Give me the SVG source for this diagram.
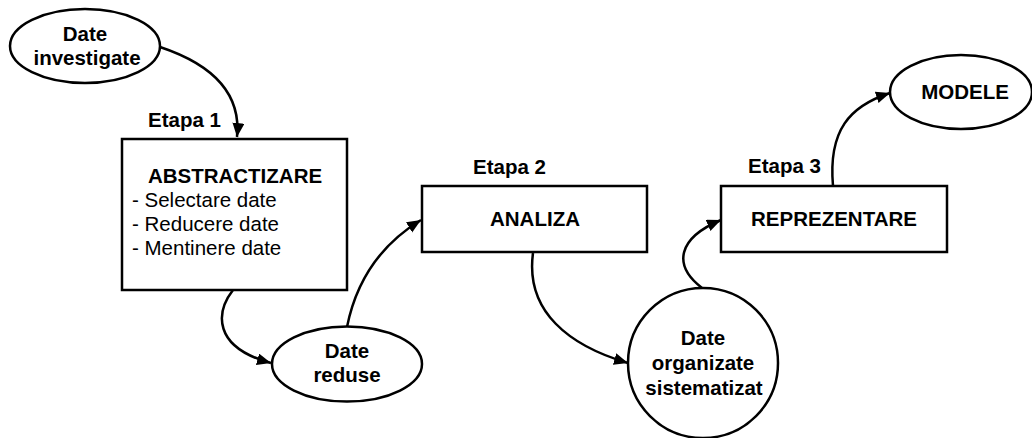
<svg xmlns="http://www.w3.org/2000/svg" width="1032" height="438" viewBox="0 0 1032 438">
  <style>
    .shape { fill: #ffffff; stroke: #000000; stroke-width: 2.5; }
    .link { fill: none; stroke: #000000; stroke-width: 2.5; }
    text { font-family: "Liberation Sans", Arial, sans-serif; font-size: 20.5px; fill: #000000; }
    .b { font-weight: bold; }
    .c { text-anchor: middle; }
  </style>
  <defs>
    <marker id="arrow" markerUnits="userSpaceOnUse" markerWidth="16" markerHeight="13" refX="14" refY="6" orient="auto">
      <path d="M0,0 L14,6 L0,12 z" fill="#000000"/>
    </marker>
  </defs>

  <rect width="1032" height="438" fill="#ffffff"/>

  <!-- connectors -->
  <g id="connectors">
    <path class="link" d="M160,47 C205,62 242,88 237,137" marker-end="url(#arrow)"/>
    <path class="link" d="M233,290 C216,312 212,347 271,363" marker-end="url(#arrow)"/>
    <path class="link" d="M347,327 C356,282 380,245 421,220" marker-end="url(#arrow)"/>
    <path class="link" d="M533,253 C525,312 570,346 628,363" marker-end="url(#arrow)"/>
    <path class="link" d="M702,288 C672,265 678,238 721,220" marker-end="url(#arrow)"/>
    <path class="link" d="M833,186 C828,130 850,106 890,93" marker-end="url(#arrow)"/>
  </g>

  <!-- input data -->
  <g id="date-investigate">
    <ellipse class="shape" cx="85" cy="46" rx="75" ry="37"/>
    <text class="b c" x="85" y="41">Date</text>
    <text class="b c" x="87" y="65">investigate</text>
  </g>

  <!-- stage 1 -->
  <g id="etapa-1">
    <text class="b" x="148" y="127">Etapa 1</text>
    <rect class="shape" x="122" y="139" width="225" height="151"/>
    <text class="b c" x="235" y="183">ABSTRACTIZARE</text>
    <text x="132" y="207">- Selectare date</text>
    <text x="132" y="231">- Reducere date</text>
    <text x="132" y="255">- Mentinere date</text>
  </g>

  <g id="date-reduse">
    <ellipse class="shape" cx="347" cy="364" rx="75" ry="37.5"/>
    <text class="b c" x="347" y="358">Date</text>
    <text class="b c" x="347" y="382">reduse</text>
  </g>

  <!-- stage 2 -->
  <g id="etapa-2">
    <text class="b" x="473" y="174">Etapa 2</text>
    <rect class="shape" x="422" y="186" width="225" height="66"/>
    <text class="b c" x="535" y="226">ANALIZA</text>
  </g>

  <g id="date-organizate">
    <circle class="shape" cx="703" cy="363" r="75"/>
    <text class="b c" x="703" y="345">Date</text>
    <text class="b c" x="703" y="370">organizate</text>
    <text class="b c" x="704" y="395">sistematizat</text>
  </g>

  <!-- stage 3 -->
  <g id="etapa-3">
    <text class="b" x="748" y="173">Etapa 3</text>
    <rect class="shape" x="721" y="186" width="226" height="66"/>
    <text class="b c" x="834" y="226">REPREZENTARE</text>
  </g>

  <g id="modele">
    <ellipse class="shape" cx="961" cy="92" rx="71" ry="37"/>
    <text class="b c" x="965" y="99">MODELE</text>
  </g>
</svg>
